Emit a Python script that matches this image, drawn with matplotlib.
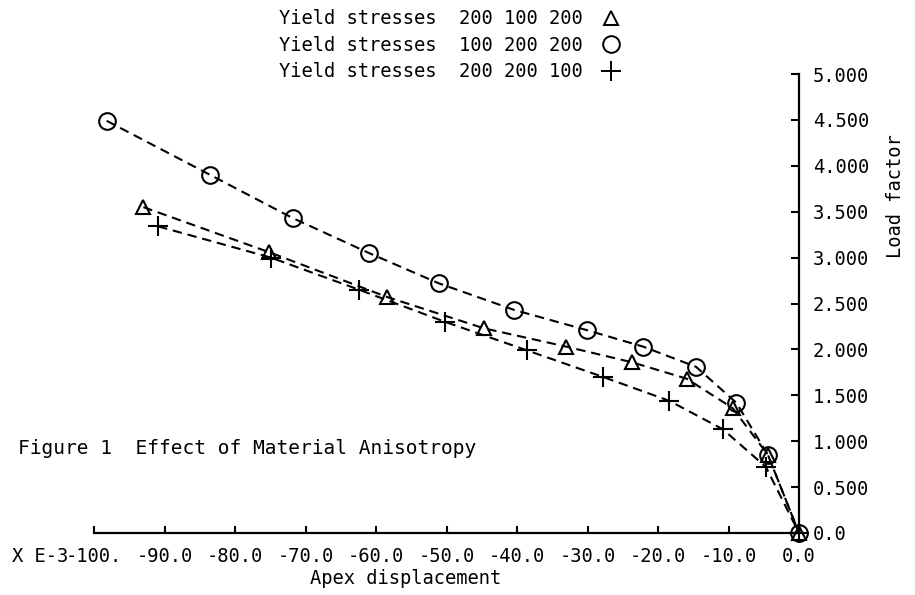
import matplotlib.pyplot as plt
from matplotlib.lines import Line2D

# Values (displacement x 1e-3, load factor)
disp_a = [-93.0, -75.2, -58.4, -44.7, -33.0, -23.7, -15.9, -9.4, -4.4, 0.0]
load_a = [3.55, 3.06, 2.57, 2.23, 2.03, 1.86, 1.68, 1.36, 0.85, 0.0]

disp_b = [-98.2, -83.5, -71.8, -61.0, -51.1, -40.4, -30.1, -22.1, -14.6, -8.9, -4.4, 0.0]
load_b = [4.49, 3.90, 3.43, 3.05, 2.72, 2.43, 2.21, 2.03, 1.81, 1.42, 0.85, 0.0]

disp_c = [-90.9, -74.9, -62.4, -50.2, -38.6, -27.8, -18.4, -10.8, -4.7, 0.0]
load_c = [3.34, 3.00, 2.65, 2.30, 1.99, 1.70, 1.44, 1.13, 0.72, 0.0]

labels = ['Yield stresses  200 100 200',
          'Yield stresses  100 200 200',
          'Yield stresses  200 200 100']

xticks = [-100, -90, -80, -70, -60, -50, -40, -30, -20, -10, 0]
xticklabels = ['-100.', '-90.0', '-80.0', '-70.0', '-60.0', '-50.0',
               '-40.0', '-30.0', '-20.0', '-10.0', '0.0']
yticks = [0, 0.5, 1.0, 1.5, 2.0, 2.5, 3.0, 3.5, 4.0, 4.5, 5.0]
yticklabels = ['0.0', '0.500', '1.000', '1.500', '2.000', '2.500',
               '3.000', '3.500', '4.000', '4.500', '5.000']

plt.rcParams['font.family'] = ['DejaVu Sans Mono']

fig = plt.figure(figsize=(9.15, 5.95), dpi=100)
ax = fig.add_axes([94 / 915, 62 / 595, 705 / 915, 459 / 595])

dash = (4.5, 2.8)
ax.plot(disp_a, load_a, color='black', lw=1.5, linestyle=(0, dash),
        marker='^', ms=10, mfc='none', mec='black', mew=1.5, clip_on=False)
ax.plot(disp_b, load_b, color='black', lw=1.5, linestyle=(0, dash),
        marker='o', ms=12, mfc='none', mec='black', mew=1.5, clip_on=False)
ax.plot(disp_c, load_c, color='black', lw=1.5, linestyle=(0, dash),
        marker='+', ms=14, mec='black', mew=1.5, clip_on=False)

ax.set_xlim(-100, 0)
ax.set_ylim(0, 5)

for side in ['top', 'left']:
    ax.spines[side].set_visible(False)
for side in ['bottom', 'right']:
    ax.spines[side].set_linewidth(1.6)

ax.yaxis.tick_right()
ax.set_xticks(xticks)
ax.set_xticklabels(xticklabels)
ax.set_yticks(yticks)
ax.set_yticklabels(yticklabels)
ax.tick_params(axis='x', direction='in', length=5, width=1.5, pad=10, labelsize=13.5)
ax.tick_params(axis='y', direction='in', length=6, width=1.5, pad=10, labelsize=13.5)

ax.set_ylabel('Load factor', fontsize=13.5)
ax.yaxis.set_label_position('right')
ax.yaxis.label.set_rotation(90)
ax.yaxis.set_label_coords(1.123, 0.735)

fig.text(406 / 915, 1 - 578 / 595, 'Apex displacement', fontsize=13.5,
         ha='center', va='center')
# multiplier text sits on the same line as the x tick labels
ax.annotate('X E-3', xy=(0, 0), xycoords='axes fraction', xytext=(-82, -14),
            textcoords='offset pixels', fontsize=13.5, ha='left', va='top')
fig.text(18 / 915, 1 - 448 / 595, 'Figure 1  Effect of Material Anisotropy',
         fontsize=14, ha='left', va='center')

handles = [
    Line2D([], [], color='black', marker='^', ms=10, mfc='none', mew=1.4, linestyle='none'),
    Line2D([], [], color='black', marker='o', ms=12, mfc='none', mew=1.4, linestyle='none'),
    Line2D([], [], color='black', marker='+', ms=14, mew=1.4, linestyle='none'),
]
fig.legend(handles, labels, loc='upper left', bbox_to_anchor=(268 / 915, 1.003),
           frameon=False, markerfirst=False, fontsize=13.5, handlelength=1.2,
           handletextpad=0.9, labelspacing=0.4, borderaxespad=0.2)

fig.savefig('out.png', dpi=100)
